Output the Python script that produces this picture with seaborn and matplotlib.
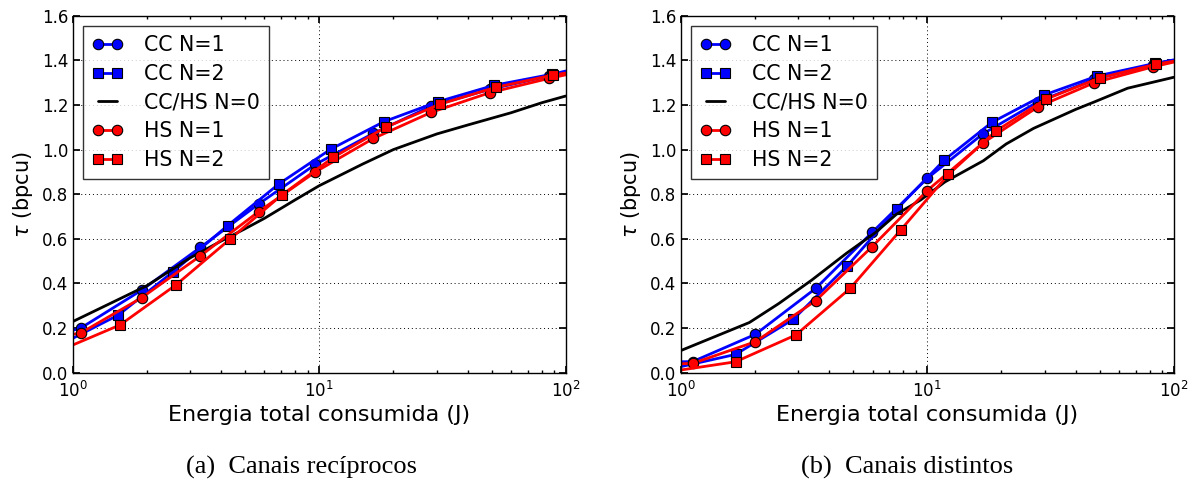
import matplotlib
matplotlib.use("Agg")
import matplotlib.pyplot as plt
import seaborn as sns

# ---- (a) Canais recíprocos ----
a_cc1_x = [1.0, 1.078, 1.905, 3.30, 5.68, 9.66, 16.6, 28.5, 49.2, 85.6, 100.0]
a_cc1_y = [0.190, 0.200, 0.370, 0.562, 0.756, 0.934, 1.073, 1.195, 1.270, 1.330, 1.345]
a_cc2_x = [1.0, 1.53, 2.56, 4.25, 6.86, 11.15, 18.3, 30.4, 51.2, 88.3, 100.0]
a_cc2_y = [0.154, 0.258, 0.453, 0.659, 0.846, 1.002, 1.125, 1.215, 1.288, 1.338, 1.352]
a_hs1_x = [1.0, 1.078, 1.905, 3.30, 5.68, 9.66, 16.6, 28.5, 49.2, 85.6, 100.0]
a_hs1_y = [0.172, 0.178, 0.336, 0.524, 0.722, 0.900, 1.050, 1.167, 1.255, 1.319, 1.335]
a_hs2_x = [1.0, 1.556, 2.62, 4.34, 7.04, 11.4, 18.6, 30.8, 52.0, 88.9, 100.0]
a_hs2_y = [0.124, 0.214, 0.393, 0.598, 0.796, 0.965, 1.100, 1.203, 1.279, 1.334, 1.343]
a_n0_x = [1.0, 2.0, 3.0, 4.0, 5.0, 6.0, 8.0, 10.0, 15.0, 20.0, 30.0, 40.0, 60.0, 80.0, 100.0]
a_n0_y = [0.229, 0.390, 0.515, 0.590, 0.645, 0.692, 0.775, 0.838, 0.935, 1.000, 1.070, 1.110, 1.165, 1.210, 1.240]

# ---- (b) Canais distintos ----
b_cc1_x = [1.0, 1.12, 2.01, 3.53, 5.98, 10.0, 16.8, 28.2, 47.7, 82.5, 100.0]
b_cc1_y = [0.049, 0.050, 0.172, 0.378, 0.629, 0.871, 1.070, 1.215, 1.315, 1.380, 1.400]
b_cc2_x = [1.0, 1.67, 2.86, 4.75, 7.56, 11.7, 18.3, 29.7, 49.0, 83.7, 100.0]
b_cc2_y = [0.027, 0.082, 0.239, 0.480, 0.735, 0.952, 1.122, 1.244, 1.330, 1.386, 1.402]
b_hs1_x = [1.0, 1.12, 2.01, 3.53, 5.98, 10.0, 16.9, 28.2, 47.7, 82.5, 100.0]
b_hs1_y = [0.040, 0.042, 0.139, 0.323, 0.565, 0.816, 1.031, 1.192, 1.300, 1.371, 1.392]
b_hs2_x = [1.0, 1.67, 2.93, 4.87, 7.80, 12.2, 19.1, 30.3, 50.1, 85.0, 100.0]
b_hs2_y = [0.012, 0.049, 0.169, 0.378, 0.639, 0.889, 1.085, 1.226, 1.321, 1.383, 1.396]
b_n0_x = [1.0, 1.9, 2.5, 3.4, 4.7, 6.2, 7.5, 9.4, 11.8, 16.9, 20.9, 27.0, 40.0, 48.0, 65.0, 100.0]
b_n0_y = [0.099, 0.225, 0.310, 0.415, 0.535, 0.630, 0.710, 0.774, 0.855, 0.950, 1.025, 1.095, 1.180, 1.215, 1.275, 1.324]

labels = ["CC N=1", "CC N=2", "CC/HS N=0", "HS N=1", "HS N=2"]
captions = ["(a)  Canais recíprocos", "(b)  Canais distintos"]
x_label = "Energia total consumida (J)"
y_label = r"$\tau$ (bpcu)"
y_ticks = [0.0, 0.2, 0.4, 0.6, 0.8, 1.0, 1.2, 1.4, 1.6]

panels = [
    [(a_cc1_x, a_cc1_y), (a_cc2_x, a_cc2_y), (a_n0_x, a_n0_y), (a_hs1_x, a_hs1_y), (a_hs2_x, a_hs2_y)],
    [(b_cc1_x, b_cc1_y), (b_cc2_x, b_cc2_y), (b_n0_x, b_n0_y), (b_hs1_x, b_hs1_y), (b_hs2_x, b_hs2_y)],
]
styles = [
    dict(color="#0000ff", marker="o"),
    dict(color="#0000ff", marker="s"),
    dict(color="black", marker=None),
    dict(color="#ff0000", marker="o"),
    dict(color="#ff0000", marker="s"),
]

sns.set_theme(style="ticks")
plt.rcParams.update({
    "font.family": ["DejaVu Sans"],
    "xtick.direction": "in",
    "ytick.direction": "in",
    "xtick.top": True,
    "ytick.right": True,
    "xtick.major.size": 5,
    "xtick.minor.size": 2.5,
    "ytick.major.size": 5,
    "xtick.color": "black",
    "ytick.color": "black",
    "axes.edgecolor": "black",
    "axes.linewidth": 1.0,
    "text.color": "black",
    "axes.labelcolor": "black",
})

fig = plt.figure(figsize=(11.95, 4.86), dpi=100)
lefts = [0.0608, 0.5696]
caption_x = [0.2527, 0.7590]
axes = [fig.add_axes([l, 0.2331, 0.4126, 0.7346]) for l in lefts]

for ax, series, cap, cx in zip(axes, panels, captions, caption_x):
    for (xs, ys), st, lab in zip(series, styles, labels):
        kw = dict(x=xs, y=ys, ax=ax, color=st["color"], linewidth=2.0, label=lab,
                  estimator=None, sort=False)
        if st["marker"]:
            kw.update(marker=st["marker"], markersize=7.5, markeredgecolor="black",
                      markeredgewidth=0.8, markevery=slice(1, len(xs) - 1))
        sns.lineplot(**kw)
    ax.set_xscale("log")
    ax.set_xlim(1, 100)
    ax.set_ylim(0, 1.6)
    ax.set_yticks(y_ticks)
    ax.set_yticklabels([f"{t:.1f}" for t in y_ticks])
    ax.tick_params(axis="y", which="major", labelsize=12, pad=3)
    ax.tick_params(axis="x", which="major", labelsize=12, pad=6)
    ax.grid(True, which="major", color="black", linestyle=(0, (1, 3)), linewidth=0.7)
    ax.set_xlabel(x_label, fontsize=16, labelpad=3)
    ax.set_ylabel(y_label, fontsize=15, labelpad=5)
    leg = ax.legend(loc="upper left", fontsize=14.8, numpoints=2, handlelength=1.5,
                    labelspacing=0.42, borderpad=0.45, handletextpad=1.0,
                    borderaxespad=0.5, fancybox=False, frameon=True)
    leg.get_frame().set_edgecolor("black")
    leg.get_frame().set_linewidth(1.0)
    fig.text(cx, 0.026, cap, ha="center", va="baseline",
             fontsize=19, family=["Liberation Serif", "DejaVu Serif"])

fig.savefig("out.png", dpi=100)
